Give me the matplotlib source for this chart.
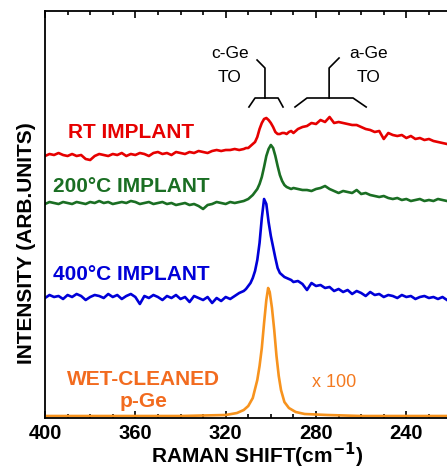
import numpy as np
import matplotlib
matplotlib.use("Agg")
import matplotlib.pyplot as plt
from matplotlib.ticker import MultipleLocator

plt.rcParams['font.family'] = ['Liberation Sans', 'DejaVu Sans']

# raman shift grid (cm-1): coarse on the wings, 1 cm-1 around the Ge peak
shift = ([400 - 2 * i for i in range(45)]          # 400 .. 312
         + [311 - i for i in range(22)]            # 311 .. 290
         + [288 - 2 * i for i in range(34)])       # 288 .. 222

# intensities (arb. units, curves already offset)
rt_implant = [
    262, 264, 263, 265, 263, 262, 264, 262, 263, 259,
    258, 262, 264, 263, 262, 264, 263, 265, 262, 264,
    263, 265, 264, 262, 265, 266, 264, 265, 263, 266,
    265, 264, 266, 265, 267, 266, 265, 267, 268, 267,
    268, 268, 269, 268, 269,
    270, 270, 272, 274, 276, 281, 289, 295, 299, 300, 298,
    295, 291, 286, 284, 284, 285, 285, 284, 286, 287, 285,
    289, 291, 292, 295, 294, 298, 296, 301, 295, 296,
    295, 294, 293, 293, 291, 289, 288, 286, 287, 279,
    285, 283, 282, 283, 280, 282, 279, 280, 278, 279,
    277, 276, 275, 274,
]
implant_200c = [
    214, 216, 215, 214, 216, 215, 214, 216, 215, 214,
    216, 215, 217, 215, 216, 214, 215, 216, 215, 217,
    216, 214, 215, 216, 214, 215, 216, 214, 215, 213,
    214, 215, 213, 214, 212, 209, 213, 214, 216, 215,
    214, 216, 215, 216, 217,
    218, 219, 221, 223, 226, 229, 234, 241, 251, 262, 269,
    273, 270, 262, 252, 243, 237, 233, 231, 230, 229, 230,
    229, 228, 228, 227, 229, 230, 232, 229, 227, 225,
    227, 226, 225, 228, 224, 225, 223, 222, 221, 222,
    220, 219, 220, 218, 219, 217, 218, 219, 217, 218,
    217, 219, 218, 217,
]
implant_400c = [
    120, 123, 121, 122, 119, 123, 121, 124, 122, 118,
    121, 123, 122, 120, 124, 121, 123, 119, 122, 124,
    121, 114, 122, 120, 123, 121, 118, 122, 120, 123,
    119, 121, 116, 122, 120, 118, 121, 115, 120, 117,
    121, 119, 122, 125, 127,
    129, 132, 135, 140, 147, 158, 175, 200, 219, 214, 196,
    182, 171, 160, 150, 145, 143, 141, 140, 139, 138, 136,
    137, 134, 128, 135, 132, 133, 130, 131, 127, 129,
    126, 128, 124, 127, 125, 122, 126, 123, 124, 121,
    123, 122, 120, 123, 121, 122, 119, 121, 122, 120,
    121, 119, 121, 118,
]

# wet-cleaned reference (x100), smooth peak
pge_shift = [400, 340, 320, 315, 312, 310, 308, 306, 305, 304, 303, 302, 301.2,
             300.5, 299.5, 298.5, 297.5, 296.5, 295.5, 294, 292, 289, 285, 275, 260, 222]
pge_int = [2, 2, 3, 5, 8, 12, 20, 38, 52, 70, 95, 118, 130,
           126, 110, 88, 62, 42, 28, 16, 10, 6, 4, 3, 2, 2]

red = '#e60000'
green = '#1a6e23'
blue = '#0000d8'
orange = '#f7931e'

fig = plt.figure(figsize=(4.47, 4.69), dpi=100)
ax = fig.add_axes([45 / 447, 51 / 469, 402 / 447, 407 / 469])

ax.plot(shift, rt_implant, color=red, lw=1.9)
ax.plot(shift, implant_200c, color=green, lw=1.9)
ax.plot(shift, implant_400c, color=blue, lw=1.9)
ax.plot(pge_shift, pge_int, color=orange, lw=1.9)

ax.set_xlim(400, 222)
ax.set_ylim(0, 407)

# peak markers
ax.plot([306.1, 302.6, 302.6], [358, 350, 320], color='k', lw=1.2)
ax.plot([309.7, 307.0, 296.8, 294.6], [311, 320, 320, 311], color='k', lw=1.2)
ax.plot([269.8, 274.2, 274.2], [360, 350, 320], color='k', lw=1.2)
ax.plot([289.3, 284.0, 263.6, 257.8], [311, 320, 320, 311], color='k', lw=1.2)
ax.text(318.1, 364, 'c-Ge', ha='center', va='center', fontsize=12.5)
ax.text(318.1, 341, 'TO', ha='center', va='center', fontsize=12.5)
ax.text(256.9, 364, 'a-Ge', ha='center', va='center', fontsize=12.5)
ax.text(256.9, 341, 'TO', ha='center', va='center', fontsize=12.5)

ax.text(389.8, 285, 'RT IMPLANT', color=red, fontsize=15, fontweight='bold', va='center')
ax.text(396.5, 232, '200°C IMPLANT', color=green, fontsize=15, fontweight='bold', va='center')
ax.text(396.5, 143, '400°C IMPLANT', color=blue, fontsize=15, fontweight='bold', va='center')
ax.text(356.2, 28, 'WET-CLEANED\np-Ge', color='#f26b1f', fontsize=15, fontweight='bold',
        ha='center', va='center', linespacing=1.2)
ax.text(272, 36, 'x 100', color='#f47a20', fontsize=13, ha='center', va='center')

ax.xaxis.set_major_locator(MultipleLocator(40))
ax.xaxis.set_minor_locator(MultipleLocator(10))
ax.tick_params(axis='x', which='both', direction='in', top=True, bottom=True,
               labelsize=14.5, pad=4, width=1.2)
ax.tick_params(axis='x', which='major', length=5)
ax.tick_params(axis='x', which='minor', length=3)
for lab in ax.get_xticklabels():
    lab.set_fontweight('bold')
ax.set_yticks([])

ax.spines['right'].set_visible(False)
for s in ['left', 'top', 'bottom']:
    ax.spines[s].set_linewidth(1.3)

ax.set_xlabel('RAMAN SHIFT(cm$^{\\mathbf{-1}}$)', fontsize=15, fontweight='bold', va='center')
ax.xaxis.set_label_coords(0.527, -0.093)
ax.set_ylabel('INTENSITY (ARB.UNITS)', fontsize=15, fontweight='bold', va='center')
ax.yaxis.set_label_coords(-0.045, 0.43)

fig.savefig('out.png', dpi=100)
